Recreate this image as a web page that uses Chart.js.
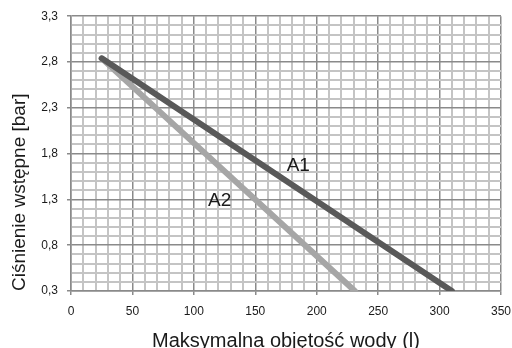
<!DOCTYPE html>
<html>
<head>
<meta charset="utf-8">
<script src="https://cdn.jsdelivr.net/npm/chart.js@4/dist/chart.umd.min.js"></script>
<style>
  html, body { margin: 0; padding: 0; background: #fff; }
  #wrap { width: 512px; height: 348px; }
</style>
</head>
<body>
<div id="wrap"><canvas id="chart"></canvas></div>
<script>
// curve data: maximum water volume (l) vs pre-charge pressure (bar)
const volumeA1 = [25, 310];
const pressureA1 = [2.84, 0.3];
const volumeA2 = [25, 231];
const pressureA2 = [2.84, 0.3];

const seriesNames = ['A1', 'A2'];
const xTickLabels = [0, 50, 100, 150, 200, 250, 300, 350];
const yTickLabels = [0.3, 0.8, 1.3, 1.8, 2.3, 2.8, 3.3];

// where the curve names sit, in data units
const nameAnchors = [
  { x: 185, y: 1.67 },
  { x: 121, y: 1.29 }
];

const toPoints = (xs, ys) => xs.map((x, i) => ({ x: x, y: ys[i] }));

const isMajorX = v => Math.abs(v / 50 - Math.round(v / 50)) < 1e-6;
const isMajorY = v => {
  const t = Math.round(v * 10);
  return (t - 3) % 5 === 0;
};

const FONT = '"Liberation Sans", Arial, sans-serif';

const curveNames = {
  id: 'curveNames',
  afterDatasetsDraw(chart) {
    const { ctx, scales } = chart;
    ctx.save();
    ctx.fillStyle = '#1a1a1a';
    ctx.font = '19px ' + FONT;
    ctx.textAlign = 'center';
    ctx.textBaseline = 'middle';
    seriesNames.forEach((name, i) => {
      const a = nameAnchors[i];
      ctx.fillText(name, scales.x.getPixelForValue(a.x), scales.y.getPixelForValue(a.y));
    });
    ctx.restore();
  }
};

new Chart(document.getElementById('chart'), {
  type: 'scatter',
  data: {
    datasets: [
      {
        label: seriesNames[0],
        data: toPoints(volumeA1, pressureA1),
        showLine: true,
        borderColor: '#595959',
        borderWidth: 6,
        borderCapStyle: 'round',
        pointRadius: 0
      },
      {
        label: seriesNames[1],
        data: toPoints(volumeA2, pressureA2),
        showLine: true,
        borderColor: '#a6a6a6',
        borderWidth: 6,
        borderCapStyle: 'round',
        pointRadius: 0
      }
    ]
  },
  options: {
    responsive: true,
    maintainAspectRatio: false,
    animation: false,
    layout: { padding: { top: 15, right: 11, left: 0, bottom: 0 } },
    plugins: {
      legend: { display: false },
      tooltip: { enabled: false }
    },
    scales: {
      x: {
        type: 'linear',
        min: 0,
        max: 350,
        afterBuildTicks: s => {
          const t = [];
          for (let v = 0; v <= 350; v += 10) t.push({ value: v });
          s.ticks = t;
        },
        afterFit: s => {
          s.height = 57;
          s.paddingLeft = 0;
          s.paddingRight = 0;
        },
        grid: {
          color: c => isMajorX(c.tick.value) ? '#8a8a8a' : '#c4c4c4',
          lineWidth: c => isMajorX(c.tick.value) ? 1.5 : 2,
          tickColor: c => isMajorX(c.tick.value) ? '#8a8a8a' : 'rgba(0,0,0,0)',
          tickLength: 4
        },
        border: { color: '#8a8a8a', width: 1.5 },
        ticks: {
          autoSkip: false,
          maxRotation: 0,
          color: '#1a1a1a',
          padding: 9,
          font: { family: FONT, size: 12 },
          callback: v => xTickLabels.includes(v) ? String(v) : ''
        },
        title: {
          display: true,
          text: 'Maksymalna objętość wody (l)',
          color: '#1a1a1a',
          font: { family: FONT, size: 20, lineHeight: 1 },
          padding: { top: 0, bottom: -3 }
        }
      },
      y: {
        type: 'linear',
        min: 0.3,
        max: 3.3,
        afterBuildTicks: s => {
          const t = [];
          for (let k = 3; k <= 33; k++) t.push({ value: k / 10 });
          s.ticks = t;
        },
        afterFit: s => { s.width = 71; },
        grid: {
          color: c => isMajorY(c.tick.value) ? '#8a8a8a' : '#c4c4c4',
          lineWidth: c => isMajorY(c.tick.value) ? 1.5 : 2,
          tickColor: c => isMajorY(c.tick.value) ? '#8a8a8a' : 'rgba(0,0,0,0)',
          tickLength: 4
        },
        border: { color: '#8a8a8a', width: 1.5 },
        ticks: {
          autoSkip: false,
          color: '#1a1a1a',
          padding: 9,
          font: { family: FONT, size: 12 },
          callback: v => {
            const hit = yTickLabels.find(l => Math.abs(l - v) < 1e-6);
            return hit !== undefined ? hit.toFixed(1).replace('.', ',') : '';
          }
        },
        title: {
          display: true,
          align: 'start',
          text: 'Ciśnienie wstępne [bar]',
          color: '#1a1a1a',
          font: { family: FONT, size: 19, lineHeight: 1.2 },
          padding: { top: 8, bottom: 0 }
        }
      }
    }
  },
  plugins: [curveNames]
});
</script>
</body>
</html>
